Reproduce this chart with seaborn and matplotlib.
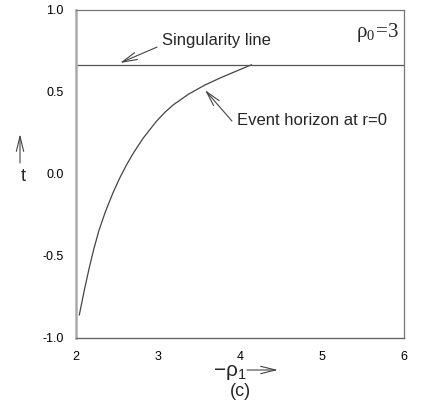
import matplotlib
matplotlib.use("Agg")
import matplotlib.pyplot as plt
import numpy as np
import pandas as pd
import seaborn as sns

# curve values (x = -rho_1, y = t)
rho_neg = [2.04, 2.10, 2.16, 2.22, 2.28, 2.36, 2.45, 2.53, 2.61, 2.70,
           2.82, 2.98, 3.09, 3.19, 3.37, 3.57, 3.76, 3.92, 4.14]
t_vals = [-0.860, -0.712, -0.575, -0.452, -0.344, -0.228, -0.116, -0.028, 0.050, 0.128,
          0.219, 0.321, 0.379, 0.423, 0.486, 0.542, 0.586, 0.620, 0.666]

singular_x = [2.0, 6.0]
singular_t = [0.667, 0.667]

x_ticks = [2, 3, 4, 5, 6]
y_ticks = [-1.0, -0.5, 0.0, 0.5, 1.0]
y_tick_labels = ["-1.0", "-0.5", "0.0", "0.5", "1.0"]

sns.set_theme(style="white")
plt.rcParams["font.family"] = ["Liberation Sans", "DejaVu Sans"]

W, H = 428, 412
fig = plt.figure(figsize=(W / 100, H / 100), dpi=100)
ax = fig.add_axes([76 / W, 1 - 338 / H, 328 / W, 328 / H])

curve = pd.DataFrame({"x": rho_neg, "t": t_vals})
sns.lineplot(data=curve, x="x", y="t", sort=False, color="#444444", lw=0.9, ax=ax)
sns.lineplot(x=singular_x, y=singular_t, color="#555555", lw=0.9, ax=ax)

ax.set_xlim(2, 6)
ax.set_ylim(-1, 1)
ax.set_xticks(x_ticks)
ax.set_xticklabels([str(v) for v in x_ticks])
ax.set_yticks(y_ticks)
ax.set_yticklabels(y_tick_labels)
ax.set_xlabel("")
ax.set_ylabel("")
ax.tick_params(axis="both", direction="out", length=6, width=0.8, color="#777777",
               labelsize=9, labelcolor="black", pad=3)
ax.tick_params(axis="x", length=6, color="#aaaaaa")

ax.spines["left"].set_color("#aaaaaa")
ax.spines["left"].set_linewidth(1.8)
ax.spines["bottom"].set_color("#666666")
ax.spines["bottom"].set_linewidth(1.0)
for s in ["top", "right"]:
    ax.spines[s].set_color("#777777")
    ax.spines[s].set_linewidth(0.9)


def px(x, y):
    # figure pixel (from top-left) -> figure fraction
    return (x / W, 1 - y / H)


arrow = dict(arrowstyle="->, head_length=0.9, head_width=0.22", color="#444444",
             lw=0.8, shrinkA=0, shrinkB=0)

ax.annotate("", xy=(2.537, 0.677), xytext=(2.988, 0.774), arrowprops=arrow)
ax.text(3.05, 0.815, "Singularity line", ha="left", va="center", fontsize=12)

ax.annotate("", xy=(3.573, 0.512), xytext=(3.902, 0.323), arrowprops=arrow)
ax.text(3.963, 0.329, "Event horizon at r=0", ha="left", va="center", fontsize=12)

ax.text(5.94, 0.865, r"$\mathregular{ρ_0\!=\!3}$", ha="right", va="center",
        fontsize=15, family=["Liberation Serif", "DejaVu Serif"])

# axis labels with arrows
fig.text(*px(23, 177), "t", ha="center", va="center", fontsize=13)
ax.annotate("", xy=px(20, 134), xytext=px(20, 163), xycoords="figure fraction",
            textcoords="figure fraction", arrowprops=arrow, annotation_clip=False)

fig.text(*px(230, 372), r"$\mathregular{-ρ_1}$", ha="center", va="center", fontsize=15)
ax.annotate("", xy=px(278, 370), xytext=px(247, 370), xycoords="figure fraction",
            textcoords="figure fraction", arrowprops=arrow, annotation_clip=False)
fig.text(*px(240, 392), "(c)", ha="center", va="center", fontsize=13)

fig.savefig("out.png", dpi=100, facecolor="white")
